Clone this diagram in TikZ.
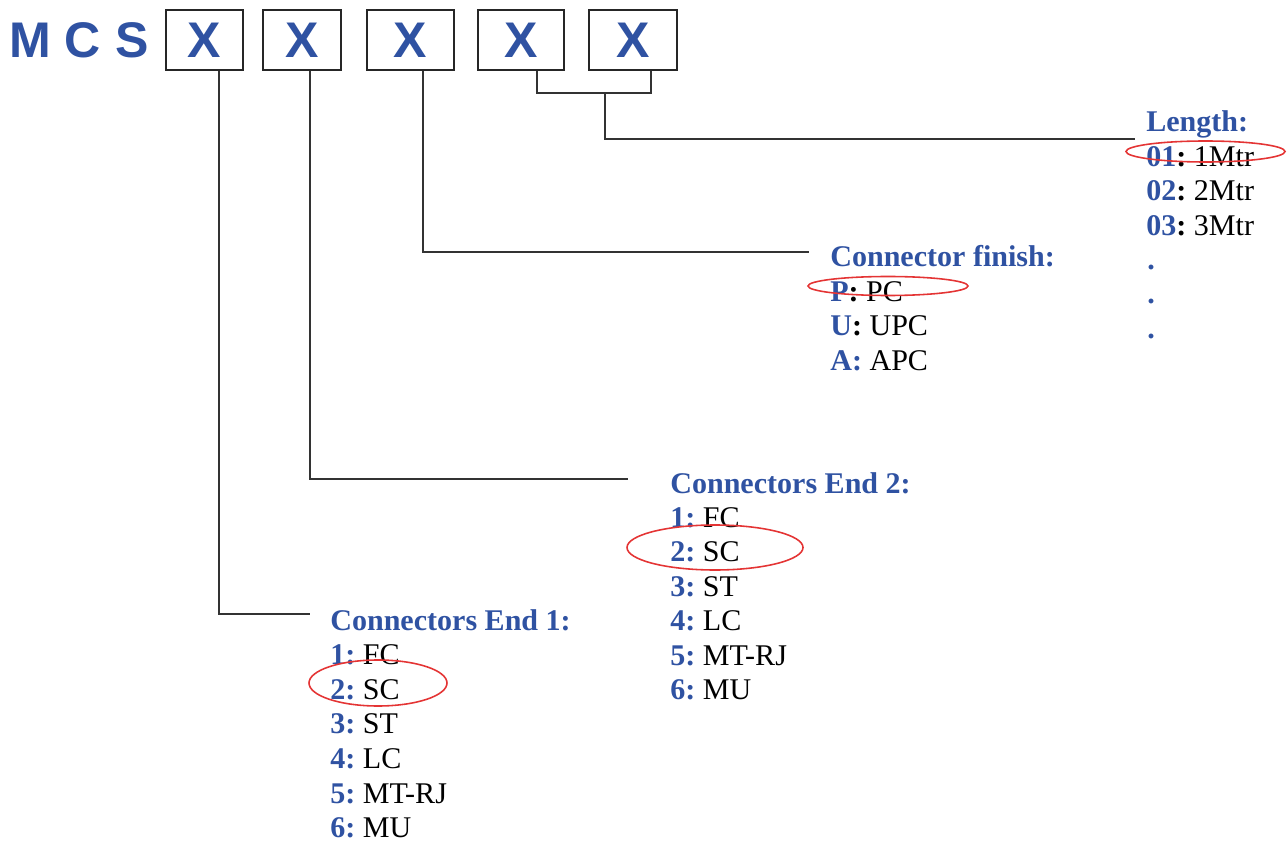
\documentclass[tikz,border=0pt]{standalone}
\usepackage{fontspec}
\setmainfont{Liberation Serif}
\newfontfamily\codefont{Liberation Sans}
\usetikzlibrary{calc}
\definecolor{codeblue}{RGB}{47,82,162}
\definecolor{ringred}{RGB}{228,52,52}
\newcommand{\key}[1]{\textcolor{codeblue}{\textbf{#1}}}
\frenchspacing

\begin{document}
\begin{tikzpicture}[x=0.02cm, y=-0.02cm,
code/.style = {font=\codefont\bfseries\fontsize{28.5}{30}\selectfont, text=codeblue},
box/.style = {code, draw=black!85, line width=1.1pt, inner sep=0, minimum height=1.2cm},
head/.style = {anchor=base west, inner sep=0, text=codeblue,
               font=\bfseries\fontsize{17.1}{20}\selectfont},
item/.style = {anchor=base west, inner sep=0, font=\fontsize{17.1}{20}\selectfont},
wire/.style = {draw=black!80, line width=1.1pt},
ring/.style = {draw=ringred, line width=0.9pt}]
\useasboundingbox (0,0) rectangle (1287,844);
% product code
\node[code, anchor=base west, inner sep=0] (mcs) at (9,58) {M C S};
\node[box, minimum width=1.54cm] (b1) at (204.5,40) {X};
\node[box, minimum width=1.56cm] (b2) at (302,40) {X};
\node[box, minimum width=1.74cm] (b3) at (410.5,40) {X};
\node[box, minimum width=1.72cm] (b4) at (521,40) {X};
\node[box, minimum width=1.76cm] (b5) at (633,40) {X};
% line ends
\coordinate (t1) at (310,614);
\coordinate (t2) at (628,479);
\coordinate (t3) at (809,252);
\coordinate (join) at (605,93);
\coordinate (t4) at (1135,139);
% Length
\node[head] (len) at (1146,132) {Length:};
\foreach \k/\v [count=\i] in {01/1Mtr,02/2Mtr,03/3Mtr}
  \node[item] (len-\i) at (1146,132+34.4*\i) {\key{\k}\textbf{:} \v};
\foreach \i in {4,5,6}
  \node[item] (dot-\i) at (1147,132+34.4*\i) {\key{.}};
% Connector finish
\node[head] (fin) at (830,267) {Connector finish:};
\node[item] (fin-1) at (830,301.5) {\key{P}\textbf{:} PC};
\node[item] (fin-2) at (830,336) {\key{U}\textbf{:} UPC};
\node[item] (fin-3) at (830,370.5) {\key{A:} APC};
% Connectors End 2
\node[head] (endB) at (670,493) {Connectors End 2:};
\foreach \k/\v [count=\i] in {1/FC,2/SC,3/ST,4/LC,5/MT-RJ,6/MU}
  \node[item] (endB-\i) at (670,493+34.4*\i) {\key{\k:} \v};
% Connectors End 1
\node[head] (endA) at (330,630) {Connectors End 1:};
\foreach \k/\v [count=\i] in {1/FC,2/SC,3/ST,4/LC,5/MT-RJ,6/MU}
  \node[item] (endA-\i) at (330,630+34.6*\i) {\key{\k:} \v};
% connectors
\draw[wire] ($(b1.south)+(14.5,0)$) |- (t1);
\draw[wire] ($(b2.south)+(8,0)$) |- (t2);
\draw[wire] ($(b3.south)+(12.5,0)$) |- (t3);
\draw[wire] ($(b4.south)+(16,0)$) |- (join) -| ($(b5.south)+(18,0)$);
\draw[wire] (join) |- (t4);
% selected options
\draw[ring] (1205.5,151.5) ellipse (79.5 and 10.5);
\draw[ring] (888,286) ellipse (80 and 9.5);
\draw[ring] (715,547.5) ellipse (88 and 22.5);
\draw[ring] (378,683) ellipse (69 and 23);
\end{tikzpicture}
\end{document}
